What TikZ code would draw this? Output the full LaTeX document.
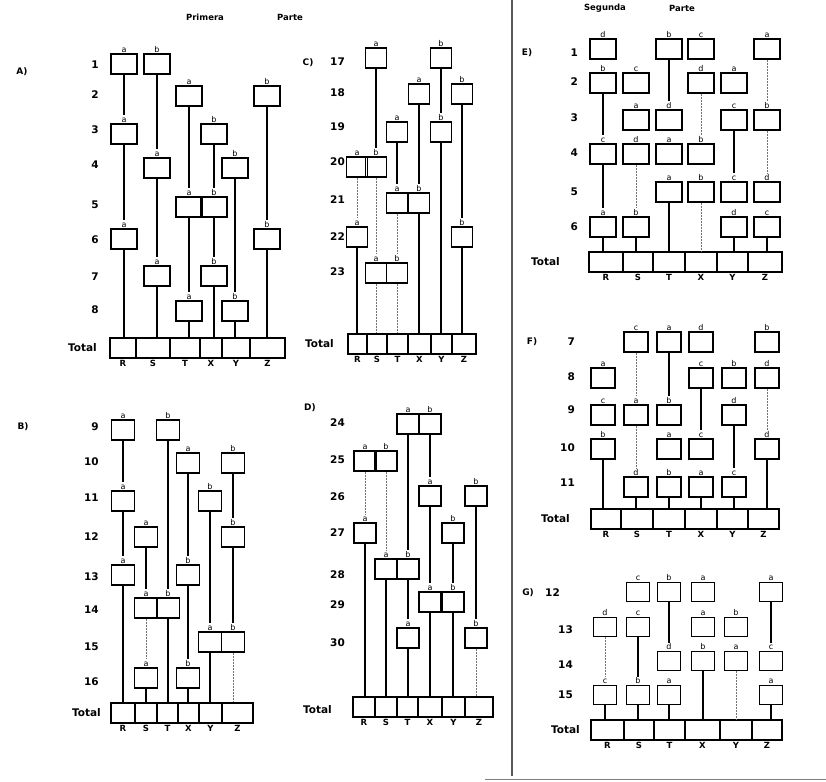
\documentclass[tikz,border=0pt]{standalone}
\usepackage{fontspec}
\setmainfont{DejaVu Sans}
\usepackage{tikz}

\begin{document}
\begin{tikzpicture}[
	x=1pt, y=-1pt,
	cell/.style={
		draw,
		line width=1.1pt,
		minimum width=26pt,
		minimum height=20pt,
		inner sep=0pt
	},
	tag/.style={font=\fontsize{8}{8}\selectfont, inner sep=0.8pt},
	ca/.style={cell, label={[tag]above:a}},
	cb/.style={cell, label={[tag]above:b}},
	cc/.style={cell, label={[tag]above:c}},
	cd/.style={cell, label={[tag]above:d}},
	tot/.style={draw, line width=1.1pt, minimum height=20pt, inner sep=0pt},
	colname/.style={font=\fontsize{8.5}{8.5}\selectfont\bfseries, inner sep=1.5pt},
	rownum/.style={font=\fontsize{10.5}{10.5}\selectfont\bfseries, anchor=east, inner sep=0pt},
	panel/.style={font=\fontsize{9}{9}\selectfont\bfseries, inner sep=0pt},
	heading/.style={font=\fontsize{8.5}{8.5}\selectfont\bfseries, inner sep=0pt},
	wire/.style={line width=1.2pt},
	faint/.style={line width=0.8pt, black!55, dash pattern=on 2pt off 1pt},
	link/.style={wire, shorten >=8pt},
	faintlink/.style={faint, shorten >=8pt},
	rule/.style={line width=1.4pt, black!65}
	]
	
	\useasboundingbox (0,0) rectangle (826,781);
	
	%%%%%%%%%%%%%%%%%%%%%%%%%%%%%%%%%%%%%%%%%%%%%%%%%%%%%%%%%%%%
	% Headings and separator
	%%%%%%%%%%%%%%%%%%%%%%%%%%%%%%%%%%%%%%%%%%%%%%%%%%%%%%%%%%%%
	
	\node[heading] (prim) at (205,17) {Primera};
	\node[heading] (parte1) at (290,17) {Parte};
	\node[heading] (seg) at (605,8) {Segunda};
	\node[heading] (parte2) at (682,8) {Parte};
	
	\coordinate (septop) at (512,0);
	\coordinate (sepbot) at (512,776);
	\coordinate (basel) at (485,779);
	\coordinate (baser) at (826,779);
	\draw[rule] (septop) -- (sepbot);
	\draw[line width=0.8pt, black!50] (basel) -- (baser);
	
	%%%%%%%%%%%%%%%%%%%%%%%%%%%%%%%%%%%%%%%%%%%%%%%%%%%%%%%%%%%%
	% A) rows 1-8
	%%%%%%%%%%%%%%%%%%%%%%%%%%%%%%%%%%%%%%%%%%%%%%%%%%%%%%%%%%%%
	
	\node[panel] (pa) at (22,72) {A)};
	\node[rownum] (na1) at (99,65) {1};
	\node[rownum] (na2) at (99,95) {2};
	\node[rownum] (na3) at (99,130) {3};
	\node[rownum] (na4) at (99,165) {4};
	\node[rownum] (na5) at (99,205) {5};
	\node[rownum] (na6) at (99,240) {6};
	\node[rownum] (na7) at (99,277) {7};
	\node[rownum] (na8) at (99,310) {8};
	\node[rownum] (nat) at (97,348) {Total};
	
	\node[ca] (a1r) at (124,64) {};
	\node[cb] (a1s) at (157,64) {};
	\node[ca] (a2t) at (189,96) {};
	\node[cb] (a2z) at (267,96) {};
	\node[ca] (a3r) at (124,134) {};
	\node[cb] (a3x) at (214,134) {};
	\node[ca] (a4s) at (157,168) {};
	\node[cb] (a4y) at (235,168) {};
	\node[ca] (a5t) at (189,207) {};
	\node[cb] (a5x) at (214,207) {};
	\node[ca] (a6r) at (124,239) {};
	\node[cb] (a6z) at (267,239) {};
	\node[ca] (a7s) at (157,276) {};
	\node[cb] (a7x) at (214,276) {};
	\node[ca] (a8t) at (189,311) {};
	\node[cb] (a8y) at (235,311) {};
	
	\node[tot, minimum width=26pt, label={[colname]below:R}] (tar) at (123,348) {};
	\node[tot, minimum width=34pt, label={[colname]below:S}] (tas) at (153,348) {};
	\node[tot, minimum width=30pt, label={[colname]below:T}] (tat) at (185,348) {};
	\node[tot, minimum width=22pt, label={[colname]below:X}] (tax) at (211,348) {};
	\node[tot, minimum width=28pt, label={[colname]below:Y}] (tay) at (236,348) {};
	\node[tot, minimum width=35pt, label={[colname]below:Z}] (taz) at (267.5,348) {};
	
	\draw[link] (a1r) -- (a3r);
	\draw[link] (a3r) -- (a6r);
	\draw[wire] (a6r) -- (a6r |- tar.north);
	\draw[link] (a1s) -- (a4s);
	\draw[link] (a4s) -- (a7s);
	\draw[wire] (a7s) -- (a7s |- tas.north);
	\draw[link] (a2t) -- (a5t);
	\draw[link] (a5t) -- (a8t);
	\draw[wire] (a8t) -- (a8t |- tat.north);
	\draw[link] (a3x) -- (a5x);
	\draw[link] (a5x) -- (a7x);
	\draw[wire] (a7x) -- (a7x |- tax.north);
	\draw[link] (a4y) -- (a8y);
	\draw[wire] (a8y) -- (a8y |- tay.north);
	\draw[link] (a2z) -- (a6z);
	\draw[wire] (a6z) -- (a6z |- taz.north);
	
	%%%%%%%%%%%%%%%%%%%%%%%%%%%%%%%%%%%%%%%%%%%%%%%%%%%%%%%%%%%%
	% B) rows 9-16
	%%%%%%%%%%%%%%%%%%%%%%%%%%%%%%%%%%%%%%%%%%%%%%%%%%%%%%%%%%%%
	
	\begin{scope}[cell/.append style={minimum width=23pt}]
	\node[panel] (pb) at (23,427) {B)};
	\node[rownum] (nb9) at (99,427) {9};
	\node[rownum] (nb10) at (99,462) {10};
	\node[rownum] (nb11) at (99,498) {11};
	\node[rownum] (nb12) at (99,537) {12};
	\node[rownum] (nb13) at (99,577) {13};
	\node[rownum] (nb14) at (99,610) {14};
	\node[rownum] (nb15) at (99,647) {15};
	\node[rownum] (nb16) at (99,682) {16};
	\node[rownum] (nbt) at (101,713) {Total};
	
	\node[ca] (b9r) at (123,430) {};
	\node[cb] (b9t) at (168,430) {};
	\node[ca] (b10x) at (188,463) {};
	\node[cb] (b10z) at (233,463) {};
	\node[ca] (b11r) at (123,501) {};
	\node[cb] (b11y) at (210,501) {};
	\node[ca] (b12s) at (146,537) {};
	\node[cb] (b12z) at (233,537) {};
	\node[ca] (b13r) at (123,575) {};
	\node[cb] (b13x) at (188,575) {};
	\node[ca] (b14s) at (146,608) {};
	\node[cb] (b14t) at (168,608) {};
	\node[ca] (b15y) at (210,642) {};
	\node[cb] (b15z) at (233,642) {};
	\node[ca] (b16s) at (146,678) {};
	\node[cb] (b16x) at (188,678) {};
	
	\node[tot, minimum width=24pt, label={[colname]below:R}] (tbr) at (123,713) {};
	\node[tot, minimum width=22pt, label={[colname]below:S}] (tbs) at (146,713) {};
	\node[tot, minimum width=21pt, label={[colname]below:T}] (tbt) at (167.5,713) {};
	\node[tot, minimum width=21pt, label={[colname]below:X}] (tbx) at (188.5,713) {};
	\node[tot, minimum width=23pt, label={[colname]below:Y}] (tby) at (210.5,713) {};
	\node[tot, minimum width=31pt, label={[colname]below:Z}] (tbz) at (237.5,713) {};
	
	\draw[link] (b9r) -- (b11r);
	\draw[link] (b11r) -- (b13r);
	\draw[wire] (b13r) -- (b13r |- tbr.north);
	\draw[link] (b9t) -- (b14t);
	\draw[wire] (b14t) -- (b14t |- tbt.north);
	\draw[link] (b10x) -- (b13x);
	\draw[link] (b13x) -- (b16x);
	\draw[wire] (b16x) -- (b16x |- tbx.north);
	\draw[link] (b10z) -- (b12z);
	\draw[link] (b12z) -- (b15z);
	\draw[faint] (b15z) -- (b15z |- tbz.north);
	\draw[link] (b11y) -- (b15y);
	\draw[wire] (b15y) -- (b15y |- tby.north);
	\draw[link] (b12s) -- (b14s);
	\draw[faintlink] (b14s) -- (b16s);
	\draw[wire] (b16s) -- (b16s |- tbs.north);
	\end{scope}
	
	%%%%%%%%%%%%%%%%%%%%%%%%%%%%%%%%%%%%%%%%%%%%%%%%%%%%%%%%%%%%
	% C) rows 17-23
	%%%%%%%%%%%%%%%%%%%%%%%%%%%%%%%%%%%%%%%%%%%%%%%%%%%%%%%%%%%%
	
	\begin{scope}[cell/.append style={minimum width=21pt}]
	\node[panel] (pc) at (308,63) {C)};
	\node[rownum] (nc17) at (345,62) {17};
	\node[rownum] (nc18) at (345,93) {18};
	\node[rownum] (nc19) at (345,127) {19};
	\node[rownum] (nc20) at (345,162) {20};
	\node[rownum] (nc21) at (345,200) {21};
	\node[rownum] (nc22) at (345,237) {22};
	\node[rownum] (nc23) at (345,272) {23};
	\node[rownum] (nct) at (334,344) {Total};
	
	\node[ca] (c17s) at (376,58) {};
	\node[cb] (c17y) at (441,58) {};
	\node[ca] (c18x) at (419,94) {};
	\node[cb] (c18z) at (462,94) {};
	\node[ca] (c19t) at (397,132) {};
	\node[cb] (c19y) at (441,132) {};
	\node[ca] (c20r) at (357,167) {};
	\node[cb] (c20s) at (376,167) {};
	\node[ca] (c21t) at (397,203) {};
	\node[cb] (c21x) at (419,203) {};
	\node[ca] (c22r) at (357,237) {};
	\node[cb] (c22z) at (462,237) {};
	\node[ca] (c23s) at (376,273) {};
	\node[cb] (c23t) at (397,273) {};
	
	\node[tot, minimum width=19pt, label={[colname]below:R}] (tcr) at (357.5,344) {};
	\node[tot, minimum width=20pt, label={[colname]below:S}] (tcs) at (377,344) {};
	\node[tot, minimum width=21pt, label={[colname]below:T}] (tct) at (397.5,344) {};
	\node[tot, minimum width=23pt, label={[colname]below:X}] (tcx) at (419.5,344) {};
	\node[tot, minimum width=21pt, label={[colname]below:Y}] (tcy) at (441.5,344) {};
	\node[tot, minimum width=24pt, label={[colname]below:Z}] (tcz) at (464,344) {};
	
	\draw[link] (c17s) -- (c20s);
	\draw[faintlink] (c20s) -- (c23s);
	\draw[faint] (c23s) -- (c23s |- tcs.north);
	\draw[link] (c17y) -- (c19y);
	\draw[wire] (c19y) -- (c19y |- tcy.north);
	\draw[link] (c18x) -- (c21x);
	\draw[wire] (c21x) -- (c21x |- tcx.north);
	\draw[link] (c18z) -- (c22z);
	\draw[wire] (c22z) -- (c22z |- tcz.north);
	\draw[link] (c19t) -- (c21t);
	\draw[faintlink] (c21t) -- (c23t);
	\draw[faint] (c23t) -- (c23t |- tct.north);
	\draw[faintlink] (c20r) -- (c22r);
	\draw[wire] (c22r) -- (c22r |- tcr.north);
	\end{scope}
	
	%%%%%%%%%%%%%%%%%%%%%%%%%%%%%%%%%%%%%%%%%%%%%%%%%%%%%%%%%%%%
	% D) rows 24-30
	%%%%%%%%%%%%%%%%%%%%%%%%%%%%%%%%%%%%%%%%%%%%%%%%%%%%%%%%%%%%
	
	\begin{scope}[cell/.append style={minimum width=22pt}]
	\node[panel] (pd) at (310,408) {D)};
	\node[rownum] (nd24) at (345,423) {24};
	\node[rownum] (nd25) at (345,460) {25};
	\node[rownum] (nd26) at (345,497) {26};
	\node[rownum] (nd27) at (345,533) {27};
	\node[rownum] (nd28) at (345,575) {28};
	\node[rownum] (nd29) at (345,605) {29};
	\node[rownum] (nd30) at (345,643) {30};
	\node[rownum] (ndt) at (332,710) {Total};
	
	\node[ca] (d24t) at (408,424) {};
	\node[cb] (d24x) at (430,424) {};
	\node[ca] (d25r) at (365,461) {};
	\node[cb] (d25s) at (386,461) {};
	\node[ca] (d26x) at (430,496) {};
	\node[cb] (d26z) at (476,496) {};
	\node[ca] (d27r) at (365,533) {};
	\node[cb] (d27y) at (453,533) {};
	\node[ca] (d28s) at (386,569) {};
	\node[cb] (d28t) at (408,569) {};
	\node[ca] (d29x) at (430,602) {};
	\node[cb] (d29y) at (453,602) {};
	\node[ca] (d30t) at (408,638) {};
	\node[cb] (d30z) at (476,638) {};
	
	\node[tot, minimum width=22pt, label={[colname]below:R}] (tdr) at (364,707) {};
	\node[tot, minimum width=22pt, label={[colname]below:S}] (tds) at (386,707) {};
	\node[tot, minimum width=21pt, label={[colname]below:T}] (tdt) at (407.5,707) {};
	\node[tot, minimum width=24pt, label={[colname]below:X}] (tdx) at (430,707) {};
	\node[tot, minimum width=23pt, label={[colname]below:Y}] (tdy) at (453.5,707) {};
	\node[tot, minimum width=28pt, label={[colname]below:Z}] (tdz) at (479,707) {};
	
	\draw[link] (d24t) -- (d28t);
	\draw[link] (d28t) -- (d30t);
	\draw[wire] (d30t) -- (d30t |- tdt.north);
	\draw[link] (d24x) -- (d26x);
	\draw[link] (d26x) -- (d29x);
	\draw[wire] (d29x) -- (d29x |- tdx.north);
	\draw[faintlink] (d25r) -- (d27r);
	\draw[wire] (d27r) -- (d27r |- tdr.north);
	\draw[faintlink] (d25s) -- (d28s);
	\draw[wire] (d28s) -- (d28s |- tds.north);
	\draw[link] (d26z) -- (d30z);
	\draw[faint] (d30z) -- (d30z |- tdz.north);
	\draw[link] (d27y) -- (d29y);
	\draw[wire] (d29y) -- (d29y |- tdy.north);
	\end{scope}
	
	%%%%%%%%%%%%%%%%%%%%%%%%%%%%%%%%%%%%%%%%%%%%%%%%%%%%%%%%%%%%
	% E) rows 1-6
	%%%%%%%%%%%%%%%%%%%%%%%%%%%%%%%%%%%%%%%%%%%%%%%%%%%%%%%%%%%%
	
	\node[panel] (pe) at (527,53) {E)};
	\node[rownum] (ne1) at (578,53) {1};
	\node[rownum] (ne2) at (578,82) {2};
	\node[rownum] (ne3) at (578,118) {3};
	\node[rownum] (ne4) at (578,153) {4};
	\node[rownum] (ne5) at (578,192) {5};
	\node[rownum] (ne6) at (578,227) {6};
	\node[rownum] (net) at (560,262) {Total};
	
	\node[cd] (e1r) at (603,49) {};
	\node[cb] (e1t) at (669,49) {};
	\node[cc] (e1x) at (701,49) {};
	\node[ca] (e1z) at (767,49) {};
	\node[cb] (e2r) at (603,83) {};
	\node[cc] (e2s) at (636,83) {};
	\node[cd] (e2x) at (701,83) {};
	\node[ca] (e2y) at (734,83) {};
	\node[ca] (e3s) at (636,120) {};
	\node[cd] (e3t) at (669,120) {};
	\node[cc] (e3y) at (734,120) {};
	\node[cb] (e3z) at (767,120) {};
	\node[cc] (e4r) at (603,154) {};
	\node[cd] (e4s) at (636,154) {};
	\node[ca] (e4t) at (669,154) {};
	\node[cb] (e4x) at (701,154) {};
	\node[ca] (e5t) at (669,192) {};
	\node[cb] (e5x) at (701,192) {};
	\node[cc] (e5y) at (734,192) {};
	\node[cd] (e5z) at (767,192) {};
	\node[ca] (e6r) at (603,227) {};
	\node[cb] (e6s) at (636,227) {};
	\node[cd] (e6y) at (734,227) {};
	\node[cc] (e6z) at (767,227) {};
	
	\node[tot, minimum width=34pt, label={[colname]below:R}] (ter) at (606,262) {};
	\node[tot, minimum width=30pt, label={[colname]below:S}] (tes) at (638,262) {};
	\node[tot, minimum width=32pt, label={[colname]below:T}] (tet) at (669,262) {};
	\node[tot, minimum width=32pt, label={[colname]below:X}] (tex) at (701,262) {};
	\node[tot, minimum width=31pt, label={[colname]below:Y}] (tey) at (732.5,262) {};
	\node[tot, minimum width=34pt, label={[colname]below:Z}] (tez) at (765,262) {};
	
	\draw[link] (e2r) -- (e4r);
	\draw[link] (e4r) -- (e6r);
	\draw[wire] (e6r) -- (e6r |- ter.north);
	\draw[faintlink] (e4s) -- (e6s);
	\draw[wire] (e6s) -- (e6s |- tes.north);
	\draw[link] (e1t) -- (e3t);
	\draw[wire] (e5t) -- (e5t |- tet.north);
	\draw[faintlink] (e2x) -- (e4x);
	\draw[faint] (e5x) -- (e5x |- tex.north);
	\draw[link] (e3y) -- (e5y);
	\draw[wire] (e6y) -- (e6y |- tey.north);
	\draw[faintlink] (e1z) -- (e3z);
	\draw[faintlink] (e3z) -- (e5z);
	\draw[wire] (e6z) -- (e6z |- tez.north);
	
	%%%%%%%%%%%%%%%%%%%%%%%%%%%%%%%%%%%%%%%%%%%%%%%%%%%%%%%%%%%%
	% F) rows 7-11
	%%%%%%%%%%%%%%%%%%%%%%%%%%%%%%%%%%%%%%%%%%%%%%%%%%%%%%%%%%%%
	
	\begin{scope}[cell/.append style={minimum width=24pt}]
	\node[panel] (pf) at (532,342) {F)};
	\node[rownum] (nf7) at (575,342) {7};
	\node[rownum] (nf8) at (575,377) {8};
	\node[rownum] (nf9) at (575,410) {9};
	\node[rownum] (nf10) at (575,448) {10};
	\node[rownum] (nf11) at (575,483) {11};
	\node[rownum] (nft) at (570,519) {Total};
	
	\node[cc] (f7s) at (636,342) {};
	\node[ca] (f7t) at (669,342) {};
	\node[cd] (f7x) at (701,342) {};
	\node[cb] (f7z) at (767,342) {};
	\node[ca] (f8r) at (603,378) {};
	\node[cc] (f8x) at (701,378) {};
	\node[cb] (f8y) at (734,378) {};
	\node[cd] (f8z) at (767,378) {};
	\node[cc] (f9r) at (603,415) {};
	\node[ca] (f9s) at (636,415) {};
	\node[cb] (f9t) at (669,415) {};
	\node[cd] (f9y) at (734,415) {};
	\node[cb] (f10r) at (603,449) {};
	\node[ca] (f10t) at (669,449) {};
	\node[cc] (f10x) at (701,449) {};
	\node[cd] (f10z) at (767,449) {};
	\node[cd] (f11s) at (636,487) {};
	\node[cb] (f11t) at (669,487) {};
	\node[ca] (f11x) at (701,487) {};
	\node[cc] (f11y) at (734,487) {};
	
	\node[tot, minimum width=30pt, label={[colname]below:R}] (tfr) at (606,519) {};
	\node[tot, minimum width=32pt, label={[colname]below:S}] (tfs) at (637,519) {};
	\node[tot, minimum width=32pt, label={[colname]below:T}] (tft) at (669,519) {};
	\node[tot, minimum width=32pt, label={[colname]below:X}] (tfx) at (701,519) {};
	\node[tot, minimum width=31pt, label={[colname]below:Y}] (tfy) at (732.5,519) {};
	\node[tot, minimum width=31pt, label={[colname]below:Z}] (tfz) at (763.5,519) {};
	
	\draw[wire] (f10r) -- (f10r |- tfr.north);
	\draw[faintlink] (f7s) -- (f9s);
	\draw[faintlink] (f9s) -- (f11s);
	\draw[wire] (f11s) -- (f11s |- tfs.north);
	\draw[link] (f7t) -- (f9t);
	\draw[wire] (f11t) -- (f11t |- tft.north);
	\draw[link] (f8x) -- (f10x);
	\draw[wire] (f11x) -- (f11x |- tfx.north);
	\draw[link] (f9y) -- (f11y);
	\draw[wire] (f11y) -- (f11y |- tfy.north);
	\draw[faintlink] (f8z) -- (f10z);
	\draw[wire] (f10z) -- (f10z |- tfz.north);
	\end{scope}
	
	%%%%%%%%%%%%%%%%%%%%%%%%%%%%%%%%%%%%%%%%%%%%%%%%%%%%%%%%%%%%
	% G) rows 12-15
	%%%%%%%%%%%%%%%%%%%%%%%%%%%%%%%%%%%%%%%%%%%%%%%%%%%%%%%%%%%%
	
	\begin{scope}[cell/.append style={minimum width=23pt, minimum height=19pt}]
	\node[panel] (pg) at (528,593) {G)};
	\node[rownum] (ng12) at (560,593) {12};
	\node[rownum] (ng13) at (573,630) {13};
	\node[rownum] (ng14) at (573,665) {14};
	\node[rownum] (ng15) at (573,695) {15};
	\node[rownum] (ngt) at (580,730) {Total};
	
	\node[cc] (g12s) at (638,592) {};
	\node[cb] (g12t) at (669,592) {};
	\node[ca] (g12x) at (703,592) {};
	\node[ca] (g12z) at (771,592) {};
	\node[cd] (g13r) at (605,627) {};
	\node[cc] (g13s) at (638,627) {};
	\node[ca] (g13x) at (703,627) {};
	\node[cb] (g13y) at (736,627) {};
	\node[cd] (g14t) at (669,661) {};
	\node[cb] (g14x) at (703,661) {};
	\node[ca] (g14y) at (736,661) {};
	\node[cc] (g14z) at (771,661) {};
	\node[cc] (g15r) at (605,695) {};
	\node[cb] (g15s) at (638,695) {};
	\node[ca] (g15t) at (669,695) {};
	\node[ca] (g15z) at (771,695) {};
	
	\node[tot, minimum width=33pt, label={[colname]below:R}] (tgr) at (607.5,730) {};
	\node[tot, minimum width=30pt, label={[colname]below:S}] (tgs) at (639,730) {};
	\node[tot, minimum width=31pt, label={[colname]below:T}] (tgt) at (669.5,730) {};
	\node[tot, minimum width=35pt, label={[colname]below:X}] (tgx) at (702.5,730) {};
	\node[tot, minimum width=32pt, label={[colname]below:Y}] (tgy) at (736,730) {};
	\node[tot, minimum width=30pt, label={[colname]below:Z}] (tgz) at (767,730) {};
	
	\draw[faintlink] (g13r) -- (g15r);
	\draw[wire] (g15r) -- (g15r |- tgr.north);
	\draw[link] (g13s) -- (g15s);
	\draw[wire] (g15s) -- (g15s |- tgs.north);
	\draw[link] (g12t) -- (g14t);
	\draw[wire] (g15t) -- (g15t |- tgt.north);
	\draw[wire] (g14x) -- (g14x |- tgx.north);
	\draw[faint] (g14y) -- (g14y |- tgy.north);
	\draw[link] (g12z) -- (g14z);
	\draw[wire] (g15z) -- (g15z |- tgz.north);
	\end{scope}
	
\end{tikzpicture}
\end{document}
